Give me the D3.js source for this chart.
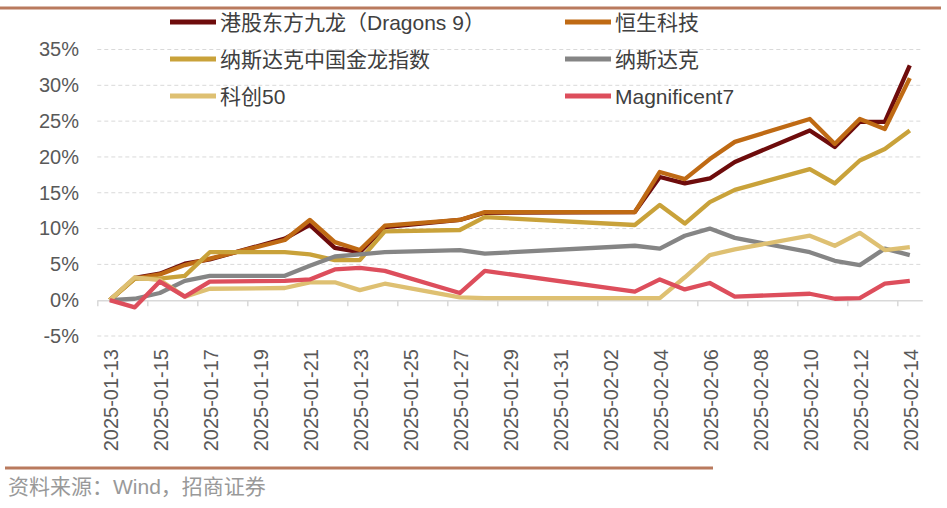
<!DOCTYPE html>
<html><head><meta charset="utf-8">
<script src="https://cdn.jsdelivr.net/npm/d3@7"></script>
<style>
html,body{margin:0;padding:0;background:#fff;}
svg{display:block;font-family:"Liberation Sans","Noto Sans CJK SC",sans-serif;}
</style></head>
<body><svg id="c" width="947" height="508"></svg>
<script>
const dates = ["2025-01-13","2025-01-14","2025-01-15","2025-01-16","2025-01-17","2025-01-20","2025-01-21","2025-01-22","2025-01-23","2025-01-24","2025-01-27","2025-01-28","2025-02-03","2025-02-04","2025-02-05","2025-02-06","2025-02-07","2025-02-10","2025-02-11","2025-02-12","2025-02-13","2025-02-14"];
const dragons9 = [0,3.1,3.7,5.1,5.7,8.6,10.5,7.3,6.7,10.2,11.2,12.2,12.3,17.2,16.3,17.0,19.3,23.7,21.4,24.9,24.9,32.8];
const hstech   = [0,3.0,3.6,4.9,5.8,8.4,11.2,8.1,7.0,10.4,11.2,12.3,12.3,17.9,16.9,19.7,22.1,25.3,21.8,25.3,23.9,31.0];
const goldenDragon = [0,3.0,3.0,3.4,6.7,6.7,6.4,5.6,5.6,9.6,9.8,11.6,10.5,13.3,10.7,13.7,15.4,18.3,16.3,19.5,21.1,23.7];
const nasdaq   = [0,0.2,1.0,2.7,3.4,3.4,4.8,6.1,6.4,6.7,7.0,6.5,7.6,7.2,9.0,10.0,8.7,6.7,5.5,4.9,7.2,6.3];
const star50   = [0,3.2,2.8,0.5,1.6,1.7,2.5,2.5,1.4,2.3,0.4,0.3,0.3,0.3,3.2,6.3,7.1,9.0,7.6,9.4,7.0,7.4];
const mag7     = [0,-1.0,2.6,0.5,2.6,2.7,2.9,4.3,4.5,4.1,1.0,4.1,1.2,2.9,1.5,2.4,0.5,0.9,0.2,0.3,2.3,2.7];
const seriesNames = ["港股东方九龙（Dragons 9）","恒生科技","纳斯达克中国金龙指数","纳斯达克","科创50","Magnificent7"];
const seriesColors = ["#6E0C0C","#BF6A14","#C9A23A","#858585","#DEC072","#DD4E5C"];
const yTicks = [-5,0,5,10,15,20,25,30,35];
const xLabelDates = ["2025-01-13","2025-01-15","2025-01-17","2025-01-19","2025-01-21","2025-01-23","2025-01-25","2025-01-27","2025-01-29","2025-01-31","2025-02-02","2025-02-04","2025-02-06","2025-02-08","2025-02-10","2025-02-12","2025-02-14"];

const allSeries = [dragons9,hstech,goldenDragon,nasdaq,star50,mag7];
const svg = d3.select("#c");
const parse = s => { const [y,m,d]=s.split("-").map(Number); return new Date(y,m-1,d); };
const noon = s => { const t=parse(s); t.setHours(12); return t; };

const x = d3.scaleTime().domain([parse("2025-01-13"), parse("2025-02-15")]).range([97.3, 922.3]);
const y = d3.scaleLinear().domain([-5,35]).range([336, 49.5]);

// top rule
svg.append("line").attr("x1",0).attr("x2",941).attr("y1",8).attr("y2",8).attr("stroke","#B97A5E").attr("stroke-width",3);

// gridlines
svg.append("g").selectAll("line").data(yTicks.filter(v=>v!==0)).join("line")
  .attr("x1",97.3).attr("x2",922.3).attr("y1",d=>y(d)).attr("y2",d=>y(d))
  .attr("stroke","#D9D9D9").attr("stroke-width",1).attr("stroke-dasharray","4,3");

// y axis labels
const yAxis = svg.append("g").attr("transform","translate(79,0)")
  .call(d3.axisLeft(y).tickValues(yTicks).tickSize(0).tickPadding(0).tickFormat(d=>d+"%"));
yAxis.select(".domain").remove();
yAxis.selectAll("text").attr("font-size",20).attr("fill","#595959").attr("font-family","Liberation Sans, sans-serif");

// x axis (at 0%)
const tickDates = d3.range(0,17).map(i=>{const t=parse("2025-01-13"); t.setDate(t.getDate()+2*i); return t;});
const xAxis = svg.append("g").attr("transform",`translate(0,${y(0)})`)
  .call(d3.axisBottom(x).tickValues(tickDates).tickSize(6).tickSizeOuter(0).tickFormat(""));
xAxis.select(".domain").attr("stroke","#D9D9D9").attr("stroke-width",1.5);
xAxis.selectAll(".tick line").attr("stroke","#D9D9D9").attr("stroke-width",1.5);

const xLab = svg.append("g").attr("transform","translate(0,349)")
  .call(d3.axisBottom(x).tickValues(xLabelDates.map(noon)).tickSize(0).tickFormat(d3.timeFormat("%Y-%m-%d")));
xLab.select(".domain").remove();
xLab.selectAll("text").attr("font-size",20).attr("fill","#595959").attr("font-family","Liberation Sans, sans-serif")
  .attr("transform","rotate(-90)").attr("text-anchor","end").attr("dy","0.4em").attr("x",0).attr("y",0);

// lines
const line = d3.line().x((d,i)=>x(noon(dates[i]))).y(d=>y(d));
allSeries.forEach((s,k)=>{
  svg.append("path").attr("d",line(s)).attr("fill","none").attr("stroke",seriesColors[k])
    .attr("stroke-width",4.3).attr("stroke-linejoin","round");
});

// legend
const legPos = [[170,22],[565,22],[170,59],[565,59],[170,96],[565,96]];
seriesNames.forEach((n,k)=>{
  const [lx,ly]=legPos[k];
  svg.append("line").attr("x1",lx).attr("x2",lx+46).attr("y1",ly).attr("y2",ly)
    .attr("stroke",seriesColors[k]).attr("stroke-width",5);
  svg.append("text").attr("x",lx+50).attr("y",ly).attr("dy","0.36em").attr("font-size",21)
    .attr("fill","#404040").text(n);
});

// bottom rule & source
svg.append("line").attr("x1",5).attr("x2",713).attr("y1",468).attr("y2",468).attr("stroke","#B97A5E").attr("stroke-width",3);
svg.append("text").attr("x",8).attr("y",486).attr("dy","0.36em").attr("font-size",21).attr("fill","#999").text("资料来源：Wind，招商证券");
</script></body></html>
